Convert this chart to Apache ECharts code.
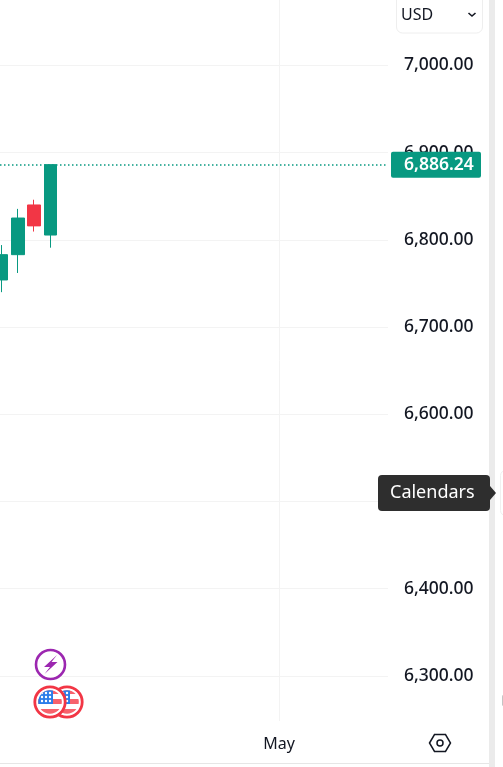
<!DOCTYPE html>
<html><head><meta charset="utf-8">
<style>html,body{margin:0;padding:0;background:#fff}#c{width:503px;height:767px}</style>
<script src="https://cdn.jsdelivr.net/npm/echarts@6/dist/echarts.min.js"></script>
</head><body><div id="c"></div>
<script>
const barIndex=[0,1,2,3];
const opens=[6754,6783,6840,6805.5];
const closes=[6783,6825,6816,6886.24];
const lows=[6740,6762,6809.5,6791];
const highs=[6794,6835.5,6846,6886.24];
const priceTicks=[6300,6400,6500,6600,6700,6800,6900,7000];
const lastPrice=6886.24;
const monthTicks=[17];
const monthLabels=['May'];

const UP='#089981',DOWN='#f23645',FONT='"Noto Sans",sans-serif',GRID='#f3f3f3';
const fmt=v=>v.toLocaleString('en-US',{minimumFractionDigits:2,maximumFractionDigits:2});
const flag=`<svg xmlns="http://www.w3.org/2000/svg" width="34" height="34" viewBox="0 0 34 34"><defs><clipPath id="a"><circle cx="17" cy="17" r="11.8"/></clipPath></defs><circle cx="17" cy="17" r="15.2" fill="#fff" stroke="#f23645" stroke-width="2.8"/><g clip-path="url(#a)"><rect width="34" height="34" fill="#fff"/><rect x="0" y="5" width="34" height="4" fill="#f7626c"/><rect x="0" y="14" width="34" height="5" fill="#f7626c"/><rect x="0" y="24" width="34" height="6" fill="#f7626c"/><rect x="4" y="4" width="16" height="15" fill="#2b7de9"/><g fill="#fff"><circle cx="9" cy="8" r="1.2"/><circle cx="13" cy="8" r="1.2"/><circle cx="17" cy="8" r="1.2"/><circle cx="9" cy="12" r="1.2"/><circle cx="13" cy="12" r="1.2"/><circle cx="17" cy="12" r="1.2"/><circle cx="9" cy="16" r="1.2"/><circle cx="13" cy="16" r="1.2"/><circle cx="17" cy="16" r="1.2"/></g></g></svg>`;
const flagUri='data:image/svg+xml;charset=utf-8,'+encodeURIComponent(flag);

const chart=echarts.init(document.getElementById('c'),null,{renderer:'canvas'});
chart.setOption({
  animation:false,
  backgroundColor:'#fff',
  grid:{left:0,top:0,width:388,height:721,containLabel:false},
  xAxis:{type:'value',min:-0.09,max:23.67,
    axisLine:{show:false},
    axisTick:{show:false,customValues:monthTicks},
    axisLabel:{customValues:monthTicks,formatter:()=>monthLabels[0],color:'#131722',fontFamily:FONT,fontSize:16,margin:15,showMinLabel:true,showMaxLabel:true},
    splitLine:{show:true,lineStyle:{color:GRID,width:1}}},
  yAxis:{type:'value',position:'right',min:6248.3,max:7075,
    axisLine:{show:false},
    axisTick:{show:false,customValues:priceTicks},
    axisLabel:{customValues:priceTicks,formatter:v=>fmt(v),color:'#131722',fontFamily:FONT,fontSize:17.5,fontWeight:500,margin:16,align:'left'},
    splitLine:{show:true,lineStyle:{color:GRID,width:1}}},
  series:[{type:'candlestick',barWidth:13,clip:false,
    data:barIndex.map((x,i)=>[x,opens[i],closes[i],lows[i],highs[i]]),
    encode:{x:0,y:[1,2,3,4]},
    itemStyle:{color:UP,color0:DOWN,borderColor:UP,borderColor0:DOWN,borderWidth:1},
    markLine:{silent:true,symbol:'none',z:10,animation:false,
      lineStyle:{color:UP,type:[1.5,2.5],width:1.5},
      label:{show:true,position:'end',distance:3,formatter:()=>fmt(lastPrice),color:'#fff',fontFamily:FONT,fontSize:17.5,fontWeight:600,backgroundColor:UP,borderRadius:2,padding:[4,7,4,13],width:70,align:'left'},
      data:[{yAxis:lastPrice}]}
  }],
  graphic:[
    {type:'rect',z:50,shape:{x:489,y:0,width:6,height:767},style:{fill:'#ebebeb'}},
    {type:'line',z:50,shape:{x1:0,y1:763.5,x2:489,y2:763.5},style:{stroke:'#e6e6e6',lineWidth:1}},
    {type:'rect',z:50,shape:{x:396.5,y:-10,width:86,height:43,r:6},style:{fill:'#fff',stroke:'#eeeeee',lineWidth:1}},
    {type:'text',z:51,x:401,y:15,style:{text:'USD',fill:'#131722',font:'16px "Noto Sans",sans-serif',textVerticalAlign:'middle'}},
    {type:'polyline',z:51,shape:{points:[[468.5,13],[472,16],[475.5,13]]},style:{stroke:'#131722',lineWidth:1.6,fill:null}},
    {type:'rect',z:52,shape:{x:378,y:475,width:112,height:36,r:4},style:{fill:'#2e2e2e'}},
    {type:'polygon',z:52,shape:{points:[[490,486],[496,493],[490,500]]},style:{fill:'#2e2e2e'}},
    {type:'text',z:53,x:390,y:493,style:{text:'Calendars',fill:'#fff',font:'18px "Noto Sans",sans-serif',textVerticalAlign:'middle'}},
    {type:'rect',z:49,shape:{x:500.5,y:470.5,width:12,height:45,r:5},style:{fill:'#fff',stroke:'#f0f0f0',lineWidth:1}},
    {type:'rect',z:49,shape:{x:502,y:695,width:3,height:11,r:1.5},style:{fill:'#c4c4c4'}},
    {type:'polygon',z:51,shape:{points:[[429.5,743],[434.5,734.5],[445.5,734.5],[450.5,743],[445.5,751.5],[434.5,751.5]]},style:{fill:'#fff',stroke:'#131722',lineWidth:1.5}},
    {type:'circle',z:52,shape:{cx:440,cy:743,r:3},style:{fill:'#fff',stroke:'#131722',lineWidth:1.5}},
    {type:'circle',z:40,shape:{cx:50.5,cy:664.5,r:14.5},style:{fill:'#fff',stroke:'#9c27b0',lineWidth:2.6}},
    {type:'polygon',z:41,shape:{points:[[57,655],[44,667],[50,667],[44.5,674],[57.5,662],[51.5,662]]},style:{fill:'#9c27b0'}},
    {type:'image',z:40,style:{image:flagUri,x:50,y:685,width:34,height:34}},
    {type:'image',z:41,style:{image:flagUri,x:33,y:685,width:34,height:34}}
  ]
});
</script></body></html>
